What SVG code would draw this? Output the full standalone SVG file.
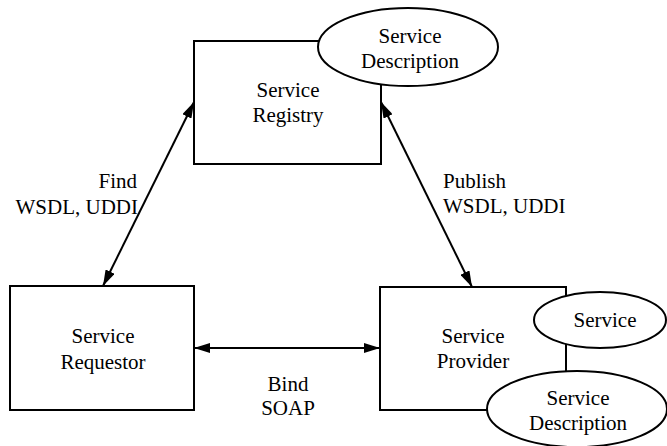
<svg xmlns="http://www.w3.org/2000/svg" width="667" height="446" viewBox="0 0 667 446">
<style>
.box{fill:#fff;stroke:#000;stroke-width:2}
.ell{fill:#fff;stroke:#000;stroke-width:2}
text{font-family:'Liberation Serif','Times New Roman',serif;font-size:21px;fill:#000}
.c{text-anchor:middle}
.conn{stroke:#000;stroke-width:2;fill:none;marker-start:url(#ah);marker-end:url(#ah)}
</style>
<defs>
<marker id="ah" viewBox="0 0 16 10" refX="16" refY="5" markerWidth="16" markerHeight="10" markerUnits="userSpaceOnUse" orient="auto-start-reverse">
<path d="M0,0 L16,5 L0,10 Z" fill="#000"/>
</marker>
</defs>
<rect width="667" height="446" fill="#fff"/>
<g id="registry">
<rect class="box" x="194" y="41" width="187" height="123"/>
<text class="c" x="288" y="97">Service</text>
<text class="c" x="288" y="122">Registry</text>
</g>
<g id="registry-description">
<ellipse class="ell" cx="408" cy="47" rx="90" ry="39"/>
<text class="c" x="410" y="43">Service</text>
<text class="c" x="410" y="68">Description</text>
</g>
<g id="requestor">
<rect class="box" x="10" y="286" width="184" height="124"/>
<text class="c" x="103" y="343">Service</text>
<text class="c" x="103" y="369">Requestor</text>
</g>
<g id="provider">
<rect class="box" x="380" y="287" width="186" height="123"/>
<text class="c" x="473" y="343">Service</text>
<text class="c" x="473" y="368">Provider</text>
</g>
<g id="provider-service">
<ellipse class="ell" cx="600" cy="320" rx="66" ry="28"/>
<text class="c" x="605" y="327">Service</text>
</g>
<g id="provider-description">
<ellipse class="ell" cx="577" cy="409" rx="90" ry="38"/>
<text class="c" x="578" y="405">Service</text>
<text class="c" x="578" y="430">Description</text>
</g>
<g id="connectors">
<line class="conn" x1="103" y1="286" x2="194" y2="102"/>
<line class="conn" x1="381" y1="102" x2="472" y2="287"/>
<line class="conn" x1="194" y1="348" x2="380" y2="348"/>
<text x="137" y="188" text-anchor="end">Find</text>
<text x="138" y="214" text-anchor="end">WSDL, UDDI</text>
<text x="443" y="188">Publish</text>
<text x="443" y="213">WSDL, UDDI</text>
<text class="c" x="288" y="391">Bind</text>
<text class="c" x="288" y="415">SOAP</text>
</g>
</svg>
